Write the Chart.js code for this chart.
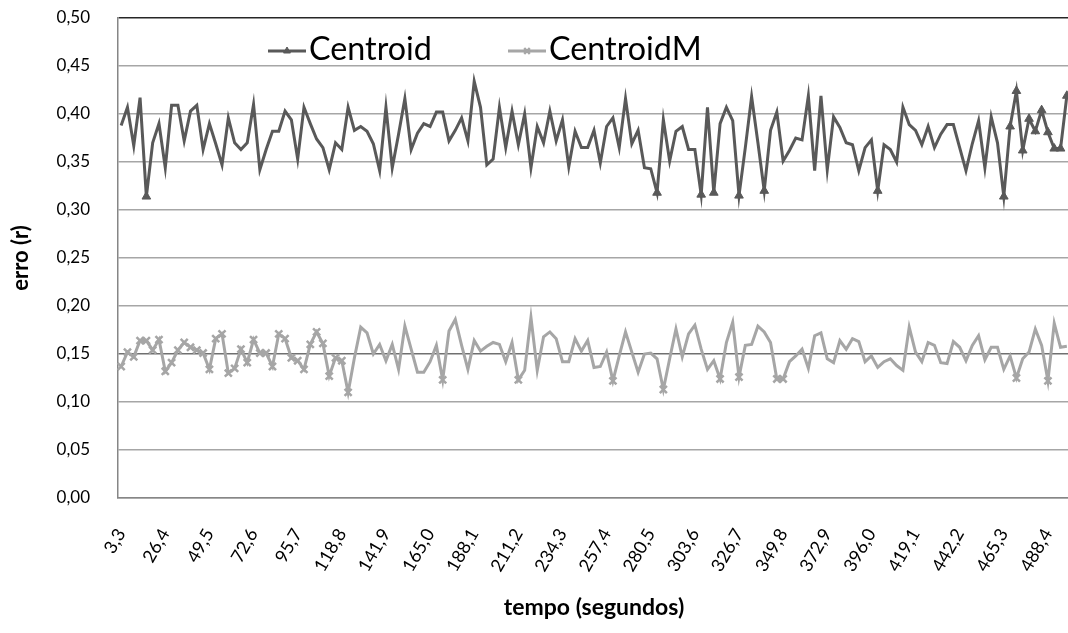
<!DOCTYPE html>
<html>
<head>
<meta charset="utf-8">
<script src="https://cdn.jsdelivr.net/npm/chart.js@4.4.1/dist/chart.umd.min.js"></script>
<style>
  html, body { margin: 0; padding: 0; overflow: hidden; background: #fff; }
  #wrap { width: 1072px; height: 633px; }
</style>
</head>
<body>
<div id="wrap"><canvas id="grafico"></canvas></div>
<script>
// erro (r) por amostra, uma a cada 3,3 s
const centroid = [
  0.388, 0.407, 0.367, 0.417, 0.314, 0.370, 0.390, 0.344, 0.409, 0.409,
  0.372, 0.403, 0.409, 0.363, 0.390, 0.369, 0.347, 0.396, 0.370, 0.363,
  0.370, 0.410, 0.342, 0.363, 0.382, 0.382, 0.403, 0.394, 0.353, 0.407,
  0.390, 0.374, 0.365, 0.342, 0.370, 0.363, 0.407, 0.383, 0.387, 0.382,
  0.369, 0.341, 0.407, 0.344, 0.379, 0.416, 0.363, 0.380, 0.390, 0.387,
  0.402, 0.402, 0.372, 0.383, 0.396, 0.372, 0.434, 0.407, 0.347, 0.353,
  0.407, 0.365, 0.403, 0.368, 0.400, 0.344, 0.387, 0.370, 0.403, 0.372,
  0.394, 0.345, 0.382, 0.365, 0.365, 0.383, 0.349, 0.387, 0.396, 0.365,
  0.416, 0.369, 0.383, 0.344, 0.343, 0.318, 0.394, 0.351, 0.382, 0.387,
  0.363, 0.363, 0.316, 0.407, 0.318, 0.390, 0.407, 0.393, 0.315, 0.365,
  0.418, 0.370, 0.320, 0.383, 0.402, 0.351, 0.362, 0.375, 0.373, 0.419,
  0.341, 0.419, 0.342, 0.397, 0.386, 0.370, 0.368, 0.341, 0.365, 0.373,
  0.320, 0.368, 0.363, 0.350, 0.407, 0.389, 0.383, 0.368, 0.387, 0.365,
  0.379, 0.389, 0.389, 0.365, 0.341, 0.369, 0.393, 0.344, 0.397, 0.370,
  0.314, 0.387, 0.424, 0.362, 0.395, 0.382, 0.404, 0.381, 0.364, 0.364,
  0.419
];

const centroidM = [
  0.137, 0.152, 0.147, 0.164, 0.164, 0.154, 0.165, 0.132, 0.141, 0.154,
  0.162, 0.157, 0.154, 0.151, 0.134, 0.166, 0.171, 0.130, 0.135, 0.155,
  0.141, 0.165, 0.151, 0.151, 0.137, 0.171, 0.166, 0.146, 0.143, 0.134,
  0.160, 0.173, 0.161, 0.127, 0.146, 0.143, 0.110, 0.146, 0.178, 0.172,
  0.150, 0.160, 0.143, 0.160, 0.134, 0.179, 0.155, 0.131, 0.131, 0.142,
  0.159, 0.123, 0.174, 0.186, 0.159, 0.134, 0.164, 0.153, 0.158, 0.162,
  0.160, 0.142, 0.162, 0.123, 0.133, 0.188, 0.133, 0.168, 0.173, 0.166,
  0.142, 0.142, 0.166, 0.153, 0.164, 0.136, 0.137, 0.152, 0.122, 0.148,
  0.173, 0.152, 0.131, 0.150, 0.151, 0.145, 0.113, 0.145, 0.176, 0.147,
  0.171, 0.180, 0.155, 0.134, 0.143, 0.124, 0.162, 0.183, 0.126, 0.159,
  0.160, 0.179, 0.173, 0.162, 0.124, 0.124, 0.142, 0.148, 0.155, 0.135,
  0.169, 0.172, 0.145, 0.141, 0.164, 0.155, 0.166, 0.163, 0.142, 0.148,
  0.136, 0.142, 0.145, 0.138, 0.133, 0.178, 0.152, 0.142, 0.162, 0.159,
  0.141, 0.140, 0.163, 0.157, 0.143, 0.159, 0.169, 0.144, 0.157, 0.157,
  0.134, 0.148, 0.125, 0.145, 0.152, 0.176, 0.159, 0.122, 0.182, 0.157,
  0.158
];

// rótulos exibidos no eixo x (um a cada 7 amostras)
const tickLabels = [
  '3,3', '26,4', '49,5', '72,6', '95,7', '118,8', '141,9', '165,0', '188,1', '211,2', '234,3',
  '257,4', '280,5', '303,6', '326,7', '349,8', '372,9', '396,0', '419,1', '442,2', '465,3', '488,4'
];
const passo = 3.3;
const tempo = centroid.map((_, i) => ((i + 1) * passo).toFixed(1).replace('.', ','));

const fonte = 'Lato, Carlito, Calibri, sans-serif';
const corCentroid = '#595959';
const corCentroidM = '#a6a6a6';

// legenda desenhada dentro da área do gráfico
const legendaInterna = {
  id: 'legendaInterna',
  afterDraw(chart) {
    const ctx = chart.ctx;
    const y = 51;
    const inicio = [268, 508];
    ctx.save();
    ctx.font = '100px ' + fonte;
    const escala = 123 / ctx.measureText('Centroid').width;
    ctx.font = (100 * escala).toFixed(1) + 'px ' + fonte;
    chart.data.datasets.forEach((ds, k) => {
      const x0 = inicio[k];
      ctx.strokeStyle = ds.borderColor;
      ctx.lineWidth = 3;
      ctx.beginPath();
      ctx.moveTo(x0, y);
      ctx.lineTo(x0 + 38, y);
      ctx.stroke();
      ctx.fillStyle = ds.pointBackgroundColor;
      ctx.strokeStyle = ds.pointBorderColor;
      ctx.lineWidth = ds.pointBorderWidth;
      Chart.helpers.drawPoint(ctx, { pointStyle: ds.pointStyle, radius: 4, borderWidth: ds.pointBorderWidth, rotation: 0 }, x0 + 19, y);
      ctx.fillStyle = '#000';
      ctx.textBaseline = 'middle';
      ctx.textAlign = 'left';
      ctx.fillText(ds.label, x0 + 41, y - 1);
    });
    ctx.restore();
  }
};

// eixos com tamanho fixo e sem folga extra dos rótulos
const semFolga = (axis) => {
  axis.paddingTop = 0;
  axis.paddingBottom = 0;
  axis.paddingLeft = 0;
  axis.paddingRight = 0;
};

new Chart(document.getElementById('grafico'), {
  type: 'line',
  data: {
    labels: tempo,
    datasets: [
      {
        label: 'Centroid',
        data: centroid,
        borderColor: corCentroid,
        borderWidth: 3,
        pointStyle: 'triangle',
        pointBackgroundColor: corCentroid,
        pointBorderColor: corCentroid,
        pointBorderWidth: 1,
        pointRadius: (c) => (c.raw <= 0.321 || c.dataIndex >= 140) ? 5 : 0,
        tension: 0
      },
      {
        label: 'CentroidM',
        data: centroidM,
        borderColor: corCentroidM,
        borderWidth: 3,
        pointStyle: 'crossRot',
        pointBackgroundColor: corCentroidM,
        pointBorderColor: corCentroidM,
        pointBorderWidth: 2.5,
        pointRadius: (c) => (c.raw <= 0.127 || c.dataIndex <= 36) ? 5 : 0,
        tension: 0
      }
    ]
  },
  options: {
    responsive: true,
    maintainAspectRatio: false,
    animation: false,
    layout: { autoPadding: false, padding: { left: 0, right: 2, top: 18, bottom: 0 } },
    plugins: {
      legend: { display: false },
      tooltip: { enabled: false }
    },
    scales: {
      x: {
        offset: true,
        afterFit: (axis) => { axis.height = 135; semFolga(axis); },
        grid: { display: false },
        border: { color: '#868686', width: 1.5 },
        ticks: {
          autoSkip: false,
          minRotation: 60,
          maxRotation: 60,
          padding: 19,
          color: '#000',
          font: { family: fonte, size: 18 },
          callback: (v, i) => i % 7 === 0 ? tickLabels[i / 7] : ''
        },
        title: {
          display: true,
          text: 'tempo (segundos)',
          color: '#000',
          font: { family: fonte, size: 23, weight: 'bold' },
          padding: { top: 0, bottom: 12 }
        }
      },
      y: {
        min: 0,
        max: 0.5,
        afterFit: (axis) => { axis.width = 118; semFolga(axis); },
        border: { color: '#868686', width: 1.5 },
        grid: {
          drawTicks: false,
          lineWidth: 1.5,
          color: (c) => {
            const v = Math.round(c.tick.value * 100);
            if (v === 50) return '#262626';
            if (v === 15) return '#707070';
            return '#a6a6a6';
          }
        },
        ticks: {
          stepSize: 0.05,
          padding: 28,
          color: '#000',
          font: { family: fonte, size: 17 },
          callback: (v) => v.toFixed(2).replace('.', ',')
        },
        title: {
          display: true,
          text: 'erro (r)',
          color: '#000',
          font: { family: fonte, size: 22, weight: 'bold' },
          padding: { top: 8, bottom: 0 }
        }
      }
    }
  },
  plugins: [legendaInterna]
});
</script>
</body>
</html>
